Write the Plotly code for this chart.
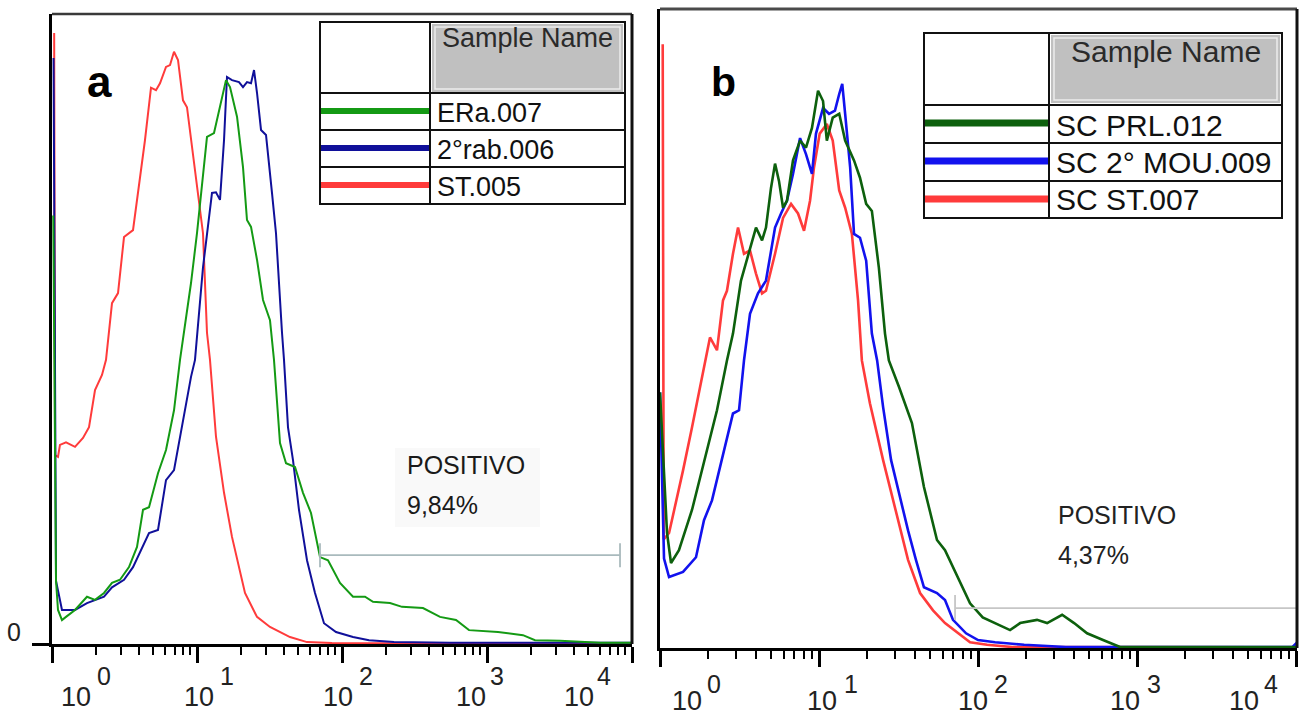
import math
import plotly.graph_objects as go

W, H = 1302, 717

# ---------------- panel a data (intensity, relative count) ----------------
a_names = ["ERa.007", "2°rab.006", "ST.005"]
a_green_x = [1.02, 1.066, 1.10, 1.172, 1.249, 1.441, 1.743, 1.98, 2.284, 2.593, 2.944, 3.396, 3.857, 4.243, 4.667,
             5.383, 6.112, 6.941, 7.635, 9.092, 10.0, 11.0, 11.72, 13.1, 14.41, 15.85, 16.89, 18.88, 20.76, 22.12,
             23.58, 25.93, 28.53, 31.87, 33.96, 37.36, 41.11, 47.42, 53.83, 61.12, 70.53, 80.06, 96.87, 119.1,
             144.1, 163.6, 214.3, 259.3, 361.9, 474.2, 611.3, 751.4, 1191, 1771, 2143, 3187, 6017, 10000]
a_green_y = [68, 10, 5.4, 3.8, 4.3, 5.4, 7.5, 7.0, 8.1, 9.7, 10.2, 12.2, 15.4, 21.3, 21.7, 27.1, 30.8, 37.1, 45.1,
             57.3, 65.2, 74.8, 80.5, 81.1, 85.2, 89.5, 88.4, 83.7, 75.7, 67.3, 66.2, 61.0, 54.6, 51.4, 45.1, 31.9,
             28.7, 28.1, 24.0, 20.8, 13.8, 13.3, 9.7, 7.5, 7.5, 6.7, 6.5, 5.9, 5.7, 4.3, 3.8, 2.2, 1.9, 1.4, 0.6,
             0.5, 0.2, 0.2]
a_blue_x = [1.025, 1.066, 1.172, 1.441, 1.743, 2.284, 2.593, 3.138, 3.62, 4.111, 4.667, 5.383, 6.112, 6.941, 8.006,
            9.092, 9.687, 11.0, 12.69, 13.52, 14.41, 15.36, 16.10, 17.43, 19.49, 20.76, 22.12, 23.58, 24.73, 25.93,
            27.64, 29.92, 32.90, 35.06, 38.57, 39.81, 42.43, 45.93, 50.51, 57.36, 65.14, 75.14, 90.92, 119.1,
            153.6, 228.3, 555.7, 10000]
a_blue_y = [93, 10, 5.4, 5.4, 6.5, 7.5, 9.0, 10.2, 12.2, 14.9, 17.6, 18.1, 26.0, 27.6, 35.6, 42.4, 45.1, 59.8,
            71.6, 71.7, 70.5, 80, 90, 89.5, 89.2, 88.4, 89.2, 89, 91.1, 87.5, 81.6, 80.8, 71.6, 65.2, 49.4, 45.1,
            34.4, 29.2, 21.3, 13.3, 8.1, 3.3, 1.9, 1.1, 0.6, 0.3, 0.2, 0.2]
a_red_x = [1.035, 1.05, 1.10, 1.135, 1.249, 1.441, 1.636, 1.80, 1.98, 2.212, 2.358, 2.593, 2.853, 3.138, 3.62,
           4.379, 4.817, 5.214, 5.557, 6.112, 6.514, 6.941, 7.396, 8.006, 8.531, 9.092, 9.687, 10.32, 11.0, 11.72,
           12.29, 13.52, 15.36, 17.43, 21.43, 25.93, 31.87, 43.79, 57.36, 85.31, 150, 10000]
a_red_y = [97, 30, 29.7, 31.6, 32.0, 31.3, 32.7, 34.4, 40.3, 42.7, 45.1, 54.1, 55.7, 64.6, 65.7, 80, 88.3, 87.9,
           89, 91.6, 91.9, 94, 92.7, 86.3, 85.2, 80, 75.7, 70.5, 65.2, 49.4, 45.1, 32.9, 24, 17, 8.1, 4.3, 2.7,
           1.1, 0.3, 0.15, 0.1, 0.1]
a_gate_x = [70.5, 8267]
a_gate_y = 14.1
a_gate_tick = [12.2, 16.0]
a_gate_text = ["POSITIVO", "9,84%"]

# ---------------- panel b data ----------------
b_names = ["SC PRL.012", "SC 2° MOU.009", "SC ST.007"]
b_green_x = [1.0, 1.107, 1.173, 1.316, 1.589, 1.891, 2.282, 2.637, 2.877, 3.231, 3.681, 4.015, 4.383, 4.64, 4.99,
             5.29, 5.6, 5.94, 6.29, 6.86, 7.6, 8.28, 9.03, 9.86, 10.6, 11.2, 12.2, 13.4, 14.6, 16.6, 18.1, 19.8,
             21.5, 23.8, 26.0, 27.5, 31.9, 38.4, 45.7, 55.2, 62.0, 74.8, 89.1, 107, 128, 159, 184, 235, 272, 338,
             402, 485, 611, 782, 10200]
b_green_y = [40, 18.0, 13.3, 15.3, 21.6, 28.9, 37.2, 45.0, 49.2, 57.5, 62.7, 65.8, 63.8, 65.8, 72.0, 75.8, 73.1,
             68.9, 70.0, 76.3, 79.4, 78.3, 81.4, 87.2, 85.6, 79.4, 83.0, 83.6, 79.4, 76.3, 73.6, 69.5, 68.4, 59.5,
             49.2, 45.0, 40.8, 35.2, 25.2, 16.9, 15.3, 11.1, 7.0, 4.8, 3.9, 2.8, 3.9, 4.4, 3.9, 5.2, 3.9, 2.3,
             1.25, 0.15, 0.15]
b_blue_x = [1.0, 1.06, 1.14, 1.396, 1.684, 1.891, 2.123, 2.35, 2.716, 2.877, 3.14, 3.375, 3.681, 4.133, 4.64, 5.29,
            5.77, 6.29, 6.86, 7.6, 8.28, 9.03, 9.57, 10.6, 11.56, 12.6, 13.4, 14.0, 14.6, 15.7, 16.6, 18.1, 19.8,
            21.5, 23.2, 25.3, 28.4, 31.9, 36.3, 40.7, 45.7, 55.2, 62.0, 69.6, 84.1, 100, 128, 195, 357, 9500, 10200]
b_blue_y = [40, 14, 11.1, 11.9, 14.2, 20.0, 23.1, 27.8, 34.5, 36.7, 37.2, 45.0, 52.3, 55.5, 57.5, 65.8, 68.0, 70.0,
            74.2, 79.8, 77.3, 74.2, 80.5, 84.5, 83.6, 84.1, 86.7, 88.3, 83.6, 75.2, 64.8, 64.2, 60.6, 49.2, 45.0,
            37.7, 29.4, 24.2, 18.4, 13.8, 9.5, 8.6, 7.5, 4.4, 2.3, 1.25, 0.9, 0.5, 0.15, 0.15, 0.9]
b_red_x = [1.04, 1.055, 1.14, 1.243, 1.396, 1.589, 1.786, 1.946, 2.062, 2.282, 2.49, 2.637, 2.877, 3.096, 3.375,
           3.681, 4.015, 4.383, 4.64, 5.29, 5.94, 6.67, 7.38, 8.05, 8.78, 9.3, 10.1, 11.2, 12.2, 13.4, 14.6, 16.1,
           17.6, 18.6, 20.9, 25.3, 30.1, 36.3, 43.2, 52.1, 62.0, 74.8, 89.1, 114, 164, 10200]
b_red_y = [94.5, 17, 18, 22, 27.8, 34.5, 40.8, 45, 48.6, 46.6, 54.4, 55.9, 61.7, 65.8, 61.7, 62.2, 58.6, 55.5,
           55.9, 61.7, 67.3, 69.5, 68, 65.3, 70, 75.2, 80.5, 82, 79.4, 71.6, 68.9, 64.8, 54.4, 45, 38.3, 29.4, 22,
           13.8, 8.6, 5.9, 3.9, 2.3, 0.9, 0.5, 0.15, 0.1]
b_gate_x = [71.7, 10140]
b_gate_y = 6.25
b_gate_tick = [4.4, 8.3]
b_gate_text = ["POSITIVO", "4,37%"]

tick_vals = [1, 10, 100, 1000, 10000]
tick_base = "10"
tick_exponents = ["0", "1", "2", "3", "4"]
minor_vals = [d * 10 ** k for k in range(4) for d in range(2, 10)]

# ---------------- styles ----------------
a_colors = ["#149a14", "#10109a", "#ff3b3b"]
b_colors = ["#0d600d", "#1212ee", "#ff3b3b"]
SANS = "Liberation Sans, Arial"
# pixel offsets of tick label parts relative to tick (base center, exponent left edge)
a_base_shift = [24, 2, -4, -16, -53]
a_exp_shift = [43, 21, 15, 1, -37]
b_base_shift = [27, 3, -5, -12, -52]
b_exp_shift = [45, 23, 14, 8, -34]


def px(p):
    return p / W


def py(p):
    return 1 - p / H


fig = go.Figure()

for xs, ys, c in [(a_red_x, a_red_y, a_colors[2]), (a_blue_x, a_blue_y, a_colors[1]),
                  (a_green_x, a_green_y, a_colors[0])]:
    fig.add_trace(go.Scatter(x=xs, y=ys, mode="lines", line=dict(color=c, width=2),
                             xaxis="x", yaxis="y", showlegend=False, hoverinfo="skip"))
for xs, ys, c in [(b_red_x, b_red_y, b_colors[2]), (b_blue_x, b_blue_y, b_colors[1]),
                  (b_green_x, b_green_y, b_colors[0])]:
    fig.add_trace(go.Scatter(x=xs, y=ys, mode="lines", line=dict(color=c, width=2.6),
                             xaxis="x2", yaxis="y2", showlegend=False, hoverinfo="skip"))

# gates
for gx, gy, gt, ax, ay, col in [(a_gate_x, a_gate_y, a_gate_tick, "x", "y", "#a9babd"),
                                (b_gate_x, b_gate_y, b_gate_tick, "x2", "y2", "#c6c6c6")]:
    fig.add_trace(go.Scatter(
        x=[gx[0], gx[0], None, gx[0], gx[1], None, gx[1], gx[1]],
        y=[gt[0], gt[1], None, gy, gy, None, gt[0], gt[1]],
        mode="lines", line=dict(color=col, width=1.8), xaxis=ax, yaxis=ay,
        showlegend=False, hoverinfo="skip"))

xa_dom = [px(52), px(632)]
ya_dom = [py(644), py(14)]
xb_dom = [px(660), px(1297)]
yb_dom = [py(648), py(9)]

xcommon = dict(type="log", automargin=False, showgrid=False, zeroline=False, showline=True, linecolor="black",
               linewidth=3, tickmode="array", tickvals=tick_vals, showticklabels=False, ticks="outside",
               ticklen=16, tickwidth=2.5, tickcolor="black",
               minor=dict(tickmode="array", tickvals=minor_vals, ticks="outside", ticklen=8, tickwidth=2,
                          tickcolor="black"))

fig.update_layout(
    width=W, height=H, margin=dict(l=0, r=0, t=0, b=0, autoexpand=False),
    paper_bgcolor="white", plot_bgcolor="white",
    xaxis=dict(domain=xa_dom, range=[0, 4], anchor="y", **xcommon),
    yaxis=dict(domain=ya_dom, range=[0, 100], anchor="x", automargin=False, showgrid=False, zeroline=False,
               showline=True, linecolor="black", linewidth=3, tickmode="array", tickvals=[0], ticktext=["0"],
               ticks="outside", ticklen=17, tickwidth=3, tickcolor="black", ticklabelshift=-12,
               ticklabelstandoff=6, tickfont=dict(family=SANS, size=25, color="#222")),
    xaxis2=dict(domain=xb_dom, range=[0, 4.006], anchor="y2", **xcommon),
    yaxis2=dict(domain=yb_dom, range=[0, 100], anchor="x2", automargin=False, showgrid=False, zeroline=False,
                showline=True, linecolor="black", linewidth=3, showticklabels=False, ticks=""),
)

shapes = []
annos = []

# frames (top & right)
shapes += [
    dict(type="line", xref="paper", yref="paper", x0=px(52), x1=px(632), y0=py(14), y1=py(14),
         line=dict(color="#3a3a3a", width=2.5)),
    dict(type="line", xref="paper", yref="paper", x0=px(632), x1=px(632), y0=py(14), y1=py(644),
         line=dict(color="#111", width=3)),
    dict(type="line", xref="paper", yref="paper", x0=px(660), x1=px(1297), y0=py(9), y1=py(9),
         line=dict(color="#4a4a4a", width=3)),
    dict(type="line", xref="paper", yref="paper", x0=px(1297), x1=px(1297), y0=py(9), y1=py(648),
         line=dict(color="#111", width=3)),
]

shapes.append(dict(type="rect", xref="paper", yref="paper", x0=px(395), x1=px(540), y0=py(448), y1=py(527),
                   fillcolor="#f9f9f9", line=dict(width=0), layer="below"))


def legend_table(x0, x1, xdiv, y0, y1, rows, gray, inner, line_ys, names, colors, lw, fsize, head_y, text_x,
                 text_ys):
    s = []
    a = []
    s.append(dict(type="rect", xref="paper", yref="paper", x0=px(gray[0]), x1=px(gray[1]), y0=py(gray[2]),
                  y1=py(gray[3]), fillcolor="#c0c0c0", line=dict(width=0)))
    s.append(dict(type="rect", xref="paper", yref="paper", x0=px(inner[0]), x1=px(inner[1]), y0=py(inner[2]),
                  y1=py(inner[3]), line=dict(color="#ececec", width=1.5)))
    s.append(dict(type="rect", xref="paper", yref="paper", x0=px(x0), x1=px(x1), y0=py(y0), y1=py(y1),
                  line=dict(color="#111", width=2)))
    s.append(dict(type="line", xref="paper", yref="paper", x0=px(xdiv), x1=px(xdiv), y0=py(y0), y1=py(y1),
                  line=dict(color="#111", width=2)))
    for r in rows:
        s.append(dict(type="line", xref="paper", yref="paper", x0=px(x0), x1=px(x1), y0=py(r), y1=py(r),
                      line=dict(color="#111", width=2)))
    for ly, c in zip(line_ys, colors):
        s.append(dict(type="line", xref="paper", yref="paper", x0=px(x0 + 1), x1=px(xdiv - 1), y0=py(ly),
                      y1=py(ly), line=dict(color=c, width=lw)))
    a.append(dict(text="Sample Name", xref="paper", yref="paper", x=px((gray[0] + gray[1]) / 2), y=py(head_y),
                  xanchor="center", yanchor="middle", showarrow=False,
                  font=dict(family=SANS, size=fsize, color="#2a2a2a")))
    for n, ty in zip(names, text_ys):
        a.append(dict(text=n, xref="paper", yref="paper", x=px(text_x), y=py(ty), xanchor="left",
                      yanchor="middle", showarrow=False, font=dict(family=SANS, size=fsize, color="#111")))
    return s, a


s, a = legend_table(320, 625, 430, 22, 204, [93, 130, 167], (432, 623, 24, 92), (435, 620, 27, 89),
                    [111, 148, 185], a_names, a_colors, 6, 27, 38, 435, [113, 150, 187])
shapes += s
annos += a
s, a = legend_table(924, 1282, 1049, 33, 218, [105, 143, 181], (1051, 1280, 35, 103), (1054, 1277, 38, 100),
                    [123, 161, 199], b_names, b_colors, 7, 30, 51, 1054, [125, 162, 199])
shapes += s
annos += a

# panel letters
annos.append(dict(text="<b>a</b>", xref="paper", yref="paper", x=px(99), y=py(82), xanchor="center",
                  yanchor="middle", showarrow=False, font=dict(family=SANS, size=44, color="black")))
annos.append(dict(text="<b>b</b>", xref="paper", yref="paper", x=px(723), y=py(82), xanchor="center",
                  yanchor="middle", showarrow=False, font=dict(family=SANS, size=41, color="black")))

# gate texts
for lines, x0, tops, col in [(a_gate_text, 405, [449, 489], "#1a1a1a"), (b_gate_text, 1056, [499, 539], "#222")]:
    for t, tp in zip(lines, tops):
        annos.append(dict(text=t, xref="paper", yref="paper", x=px(x0), y=py(tp), xanchor="left",
                          yanchor="top", showarrow=False, font=dict(family=SANS, size=25, color=col)))

# x tick labels: base "10" and raised exponent
for ax, bsh, esh, by, ey in [("x", a_base_shift, a_exp_shift, 697, 676),
                             ("x2", b_base_shift, b_exp_shift, 701, 684)]:
    for v, e, s1, s2 in zip(tick_vals, tick_exponents, bsh, esh):
        annos.append(dict(text=tick_base, xref=ax, yref="paper", x=math.log10(v), y=py(by), xanchor="center",
                          yanchor="middle", xshift=s1, showarrow=False,
                          font=dict(family=SANS, size=27, color="#222")))
        annos.append(dict(text=e, xref=ax, yref="paper", x=math.log10(v), y=py(ey), xanchor="left",
                          yanchor="middle", xshift=s2, showarrow=False,
                          font=dict(family=SANS, size=25, color="#222")))

fig.update_layout(shapes=shapes, annotations=annos)
fig.write_html("out.html")
